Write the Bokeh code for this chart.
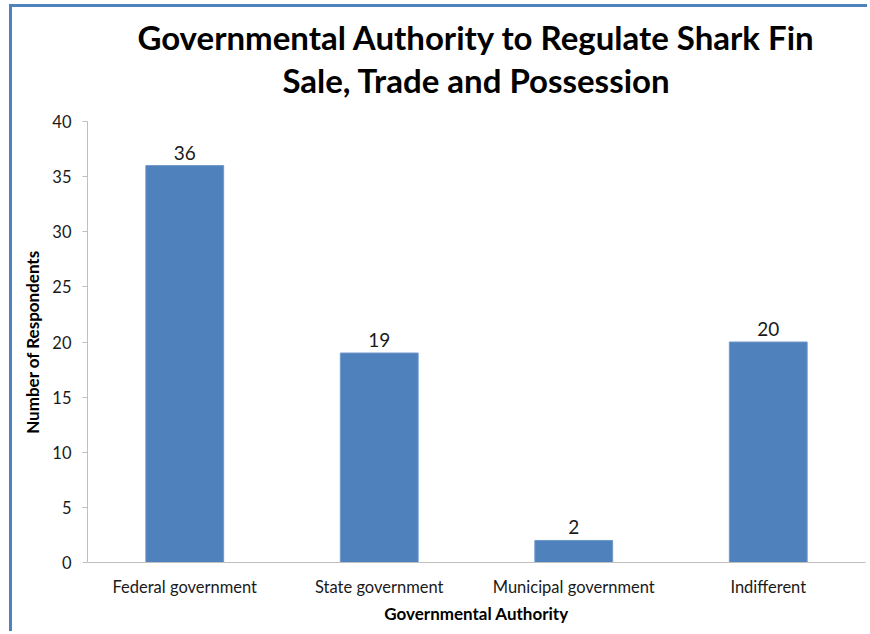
from bokeh.plotting import figure
from bokeh.models import ColumnDataSource, Title, LabelSet, FixedTicker, Range1d
from bokeh.core.properties import value
from bokeh.embed import file_html
from bokeh.resources import INLINE

categories = ["Federal government", "State government", "Municipal government", "Indifferent"]
respondents = [36, 19, 2, 20]
y_ticks = [0, 5, 10, 15, 20, 25, 30, 35, 40]
title_lines = ["Governmental Authority to Regulate Shark Fin", "Sale, Trade and Possession"]

FONT = "Lato"
BAR = "#4f81bd"
AXIS = "#bfbfbf"

src = ColumnDataSource(dict(cat=categories, val=respondents, lab=[str(v) for v in respondents]))

p = figure(x_range=categories, y_range=Range1d(0, 40), width=858, height=627,
           output_backend="svg", toolbar_location=None,
           min_border_left=75, min_border_right=5, min_border_bottom=72, min_border_top=114)

p.vbar(x="cat", top="val", width=0.4, source=src, fill_color=BAR, line_color="#6f97c9", line_width=1)

labels = LabelSet(x="cat", y="val", text="lab", source=src, text_align="center",
                  text_baseline="bottom", y_offset=6, text_font=value(FONT), text_font_size=value("19px"),
                  text_color="#1a1a1a")
p.add_layout(labels)

# second line first so it sits next to the frame
t2 = Title(text=title_lines[1], align="center", text_font=FONT, text_font_size="33px",
           text_font_style="bold", text_color="#000000", standoff=44)
t1 = Title(text=title_lines[0], align="center", text_font=FONT, text_font_size="33px",
           text_font_style="bold", text_color="#000000", standoff=-42)
p.add_layout(t2, "above")
p.add_layout(t1, "above")

p.xgrid.grid_line_color = None
p.ygrid.grid_line_color = None
p.outline_line_color = None
p.background_fill_color = "white"
p.border_fill_color = "white"

p.yaxis.ticker = FixedTicker(ticks=y_ticks)
p.yaxis.axis_line_color = AXIS
p.yaxis.major_tick_line_color = AXIS
p.yaxis.major_tick_out = 5
p.yaxis.major_tick_in = 0
p.yaxis.minor_tick_line_color = None
p.yaxis.major_label_text_font = FONT
p.yaxis.major_label_text_font_size = "16.5px"
p.yaxis.major_label_text_color = "#1a1a1a"
p.yaxis.major_label_standoff = 11
p.yaxis.axis_label = "Number of Respondents"
p.yaxis.axis_label_text_font = FONT
p.yaxis.axis_label_text_font_size = "17px"
p.yaxis.axis_label_text_font_style = "bold"
p.yaxis.axis_label_text_color = "#000000"
p.yaxis.axis_label_standoff = 6

p.xaxis.axis_line_color = AXIS
p.xaxis.major_tick_line_color = None
p.xaxis.minor_tick_line_color = None
p.xaxis.major_label_text_font = FONT
p.xaxis.major_label_text_font_size = "16.5px"
p.xaxis.major_label_text_color = "#1a1a1a"
p.xaxis.major_label_standoff = 8
p.xaxis.axis_label = "Governmental Authority"
p.xaxis.axis_label_text_font = FONT
p.xaxis.axis_label_text_font_size = "17px"
p.xaxis.axis_label_text_font_style = "bold"
p.xaxis.axis_label_text_color = "#000000"
p.xaxis.axis_label_standoff = 3

p.x_range.range_padding = 0.0

p.styles = {"border-left": "3px solid #4f81bd", "border-top": "3px solid #4f81bd",
            "margin-left": "9px", "margin-top": "4px"}

open("out.html", "w").write(file_html(p, INLINE))
